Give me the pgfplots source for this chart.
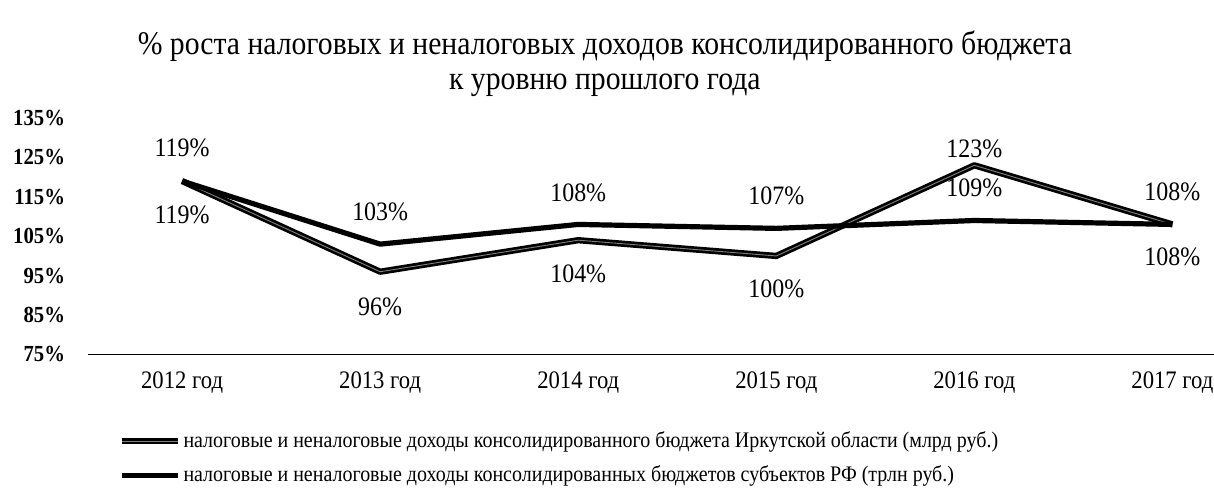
\documentclass[border=0pt]{standalone}
\usepackage{pgfplots}
\pgfplotsset{compat=1.18}
\usepackage{fontspec}
\setmainfont[FakeStretch=0.9]{Liberation Serif}

\begin{document}
\begin{tikzpicture}
\begin{axis}[
  scale only axis, width=563pt, height=118.25pt,
  xmin=-0.475, xmax=5.21, ymin=75, ymax=135,
  clip=false,
  axis x line*=bottom, axis y line*=left,
  y axis line style={draw=none},
  x axis line style={black, line width=0.8pt},
  xtick={0,...,5},
  xticklabels={2012 год,2013 год,2014 год,2015 год,2016 год,2017 год},
  ytick={75,85,...,135},
  yticklabel={\pgfmathprintnumber{\tick}\%},
  /pgf/number format/assume math mode=true,
  tick style={draw=none},
  yticklabel style={font=\bfseries\fontsize{11.5}{13}\selectfont, xshift=-8pt},
  xticklabel style={font=\fontsize{12.6}{14}\selectfont, yshift=-5pt},
  legend style={at={(rel axis cs:0.022,-0.30)}, anchor=north west, draw=none, fill=none,
    font=\fontsize{11.1}{13}\selectfont, row sep=5.5pt, nodes={inner sep=1pt}},
  legend cell align=left,
  legend image code/.code={\draw[#1] (0pt,0pt) -- (28pt,0pt);},
]
\addplot[black, line width=1.35pt, double=gray, double distance=0.45pt, line join=round]
  coordinates {(0,119) (1,96) (2,104) (3,100) (4,123) (5,108)};
\addlegendentry{налоговые и неналоговые доходы консолидированного бюджета Иркутской области (млрд руб.)}
\addplot[black, line width=2.6pt, line join=round]
  coordinates {(0,119) (1,103) (2,108) (3,107) (4,109) (5,108)};
\addlegendentry{налоговые и неналоговые доходы консолидированных бюджетов субъектов РФ (трлн руб.)}

\addplot[draw=none, forget plot, nodes near coords, point meta=explicit symbolic,
  every node near coord/.style={anchor=center, font=\fontsize{13.3}{15}\selectfont}]
  coordinates {
  (0,127.4)[119\%] (0,110.5)[119\%]
  (1,111.3)[103\%] (1,87.1)[96\%]
  (2,116.1)[108\%] (2,95.5)[104\%]
  (3,115.3)[107\%] (3,91.7)[100\%]
  (4,127.3)[123\%] (4,117.4)[109\%]
  (5,116.3)[108\%] (5,99.7)[108\%]
  };

\node[font=\fontsize{16.5}{17.5}\selectfont, align=center] at (rel axis cs:0.459,1.228)
  {\% роста налоговых и неналоговых доходов консолидированного бюджета\\к уровню прошлого года};

\coordinate (SW) at (rel axis cs:-0.0782,-0.577);
\coordinate (NE) at (rel axis cs:1,1.499);
\end{axis}
\pgfresetboundingbox
\path[use as bounding box] (SW) rectangle (NE);
\end{tikzpicture}
\end{document}
